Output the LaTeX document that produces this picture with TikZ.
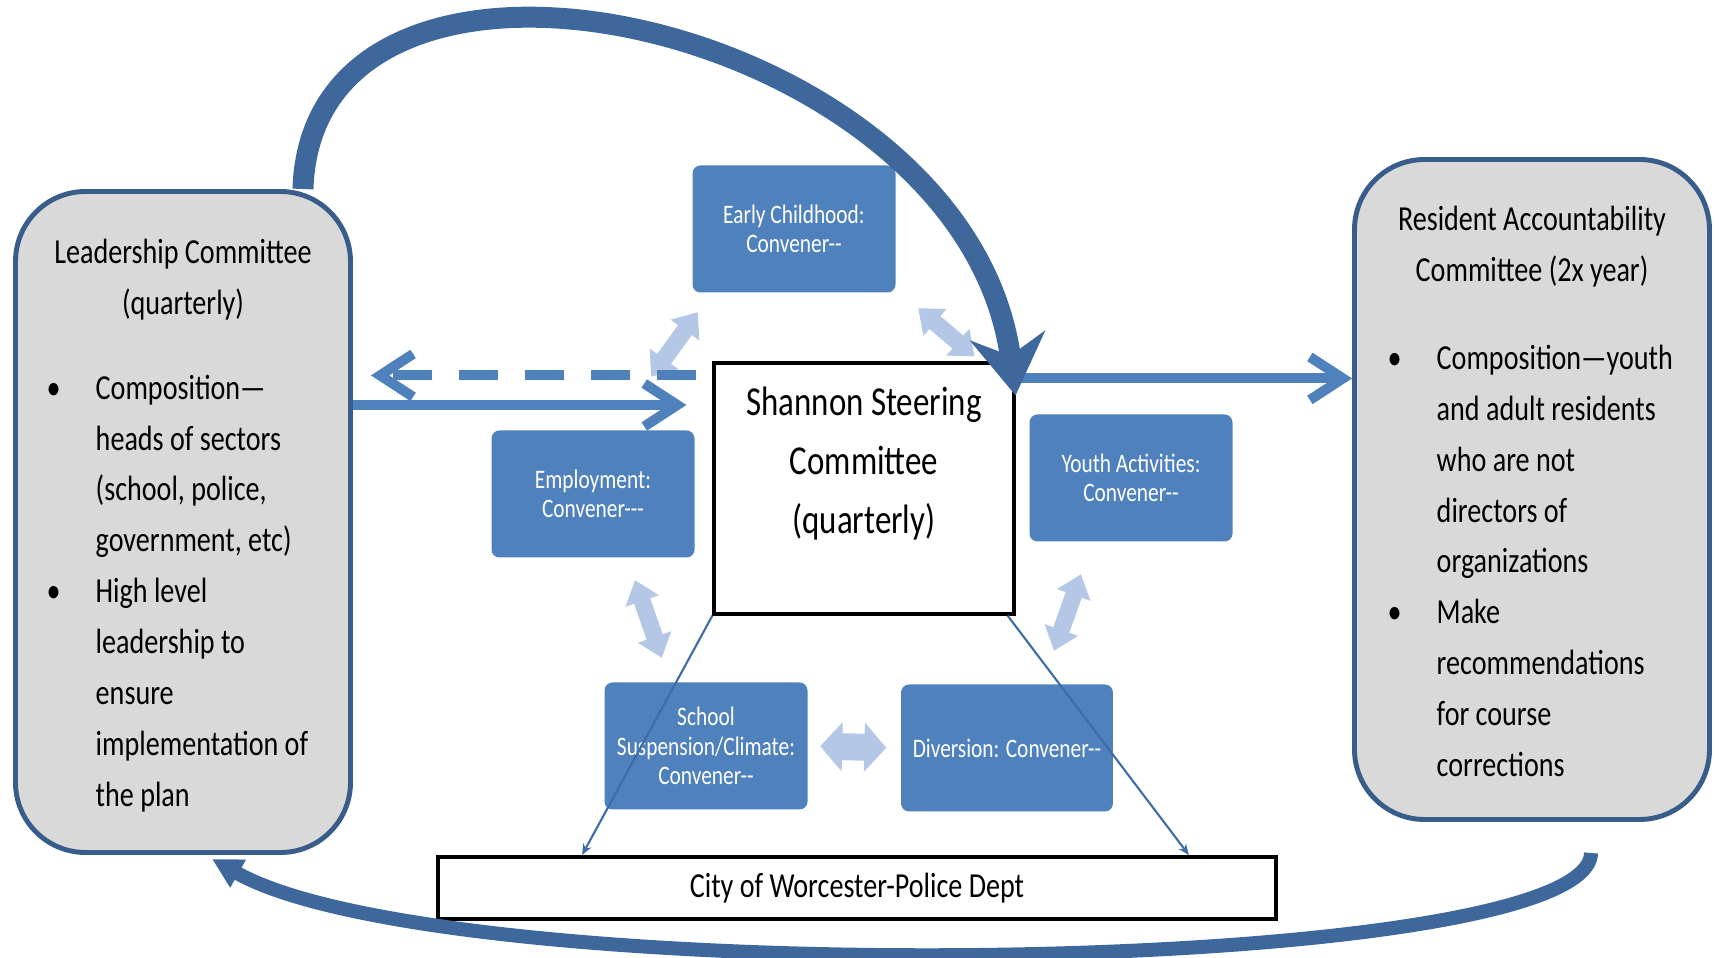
\documentclass[tikz,border=0pt]{standalone}
\usepackage{fontspec}
\setmainfont[FakeStretch=0.8]{Carlito}
\usetikzlibrary{positioning,calc,arrows.meta}
\definecolor{bleu}{RGB}{79,129,189}
\definecolor{fonce}{RGB}{62,104,156}
\definecolor{contour}{RGB}{56,93,138}
\definecolor{clair}{RGB}{180,199,231}
\definecolor{gris}{RGB}{217,217,217}
\definecolor{fil}{RGB}{62,108,168}
\newcommand{\puce}{\makebox[0.49cm][l]{•}}
\newcommand{\retrait}{\hspace*{0.49cm}}

\begin{document}
\begin{tikzpicture}
  \tikzstyle{comite}=[rectangle, draw=contour, line width=1.4pt, fill=gris,
  rounded corners=0.7cm]
  \tikzstyle{bloc}=[rectangle, fill=bleu, rounded corners=0.08cm, text=white,
  align=center, minimum width=2.03cm, minimum height=1.27cm,
  font=\fontsize{7.6}{8.4}\selectfont]
  \tikzstyle{cadre}=[rectangle, draw=black, line width=0.9pt, fill=white]
  \tikzstyle{titre}=[inner sep=0pt, align=center, font=\fontsize{10}{14.5}\selectfont]
  \tikzstyle{liste}=[inner sep=0pt, align=left, font=\fontsize{10}{14.5}\selectfont]
  \tikzstyle{fleche}=[draw=bleu, line width=0.1cm, -{Straight Barb[length=3.3mm,width=4.3mm]}]
  \tikzstyle{trait}=[draw=fil, line width=0.6pt, -{Stealth[length=1.1mm,width=0.9mm]}]
  \tikzstyle{liaison}=[draw=clair, line width=0.17cm,
  arrows={Triangle[length=2.2mm,width=3.4mm]-Triangle[length=2.2mm,width=3.4mm]}]
  \tikzstyle{boucle}=[draw=fonce, line width=0.21cm, -{Stealth[length=6mm,width=7.5mm,inset=2mm]}]

  \useasboundingbox (0,0) rectangle (17.19,9.58);

  % comites
  \node[comite, minimum width=3.35cm, minimum height=6.61cm] (lead) at (1.83,4.36) {};
  \node[comite, minimum width=3.55cm, minimum height=6.6cm] (resid) at (15.32,4.685) {};
  \node[titre, below=0.49cm of lead.north] (leadtitre) {Leadership Committee\\(quarterly)};
  \node[liste, below right=1.85cm and 0.33cm of lead.north west] (leadliste)
  {\puce Composition—\\\retrait heads of sectors\\\retrait (school, police,\\
    \retrait government, etc)\\\puce High level\\\retrait leadership to\\
    \retrait ensure\\\retrait implementation of\\\retrait the plan};
  \node[titre, below=0.48cm of resid.north] (residtitre)
  {Resident Accountability\\Committee (2x year)};
  \node[liste, below right=1.87cm and 0.35cm of resid.north west] (residliste)
  {\puce Composition—youth\\\retrait and adult residents\\\retrait who are not\\
    \retrait directors of\\\retrait organizations\\\puce Make\\
    \retrait recommendations\\\retrait for course\\\retrait corrections};

  % steering et police
  \node[cadre, minimum width=3.0cm, minimum height=2.51cm] (steer) at (8.64,4.695) {};
  \node[titre, font=\fontsize{11.7}{16.8}\selectfont, below=0.25cm of steer.north]
  (steertitre) {Shannon Steering\\Committee\\(quarterly)};
  \node[cadre, line width=1.1pt, minimum width=8.38cm, minimum height=0.62cm,
  font=\fontsize{10}{12}\selectfont] (city) at (8.57,0.70) {City of Worcester-Police Dept};

  % groupes de travail
  \foreach \n/\x/\y/\t in {early/7.94/7.29/{Early Childhood:\\Convener-{}-},
    emp/5.93/4.64/{Employment:\\Convener-{}-{}-},
    youth/11.31/4.80/{Youth Activities:\\Convener-{}-},
    school/7.06/2.12/{School\\Suspension/Climate:\\Convener-{}-},
    div/10.07/2.10/{Diversion: Convener-{}-}} {
    \node[bloc] (\n) at (\x,\y) {\t};
  }

  \draw[liaison] ($(emp.north east)+(-0.44,0.53)$) -- ($(early.south west)+(0.06,-0.19)$);
  \draw[liaison] ($(early.south east)+(0.22,-0.15)$) -- ($(steer.north east)+(-0.41,0.05)$);
  \draw[liaison] ($(emp.south)+(0.42,-0.22)$) -- ($(school.north west)+(0.58,0.24)$);
  \draw[liaison] ($(youth.south)+(-0.5,-0.32)$) -- ($(div.north)+(0.47,0.33)$);
  \draw[liaison, line width=0.27cm,
  arrows={Triangle[length=2.2mm,width=4.8mm]-Triangle[length=2.2mm,width=4.8mm]},
  shorten <=0.12cm, shorten >=0.14cm] (school.east) -- (div.west);

  \draw[trait] (steer.south west) -- ($(city.north west)+(1.46,0)$);
  \draw[trait] ($(steer.south east)+(-0.08,0)$) -- ($(city.north east)+(-0.89,0)$);

  % fleches
  \coordinate (entree) at ($(steer.west)+(-0.26,0.835)$);
  \draw[fleche] (entree -| lead.east) -- (entree);
  \coordinate (sortie) at ($(steer.north west)+(-0.16,-0.14)$);
  \draw[fleche, dash pattern=on 0.39cm off 0.27cm, shorten >=0.18cm] (sortie) -- (sortie -| lead.east);
  \coordinate (depart) at ($(steer.north east)+(0,-0.17)$);
  \draw[fleche] (depart) -- (depart -| resid.west);

  \draw[boucle] ($(lead.north east)+(-0.5,0)$) .. controls +(0.1,3.1) and +(-0.5,3.75)
  .. ($(steer.north east)+(0,-0.34)$);
  \draw[boucle, line width=0.14cm, -{Triangle[length=3mm,width=3mm]}]
  ($(resid.south)+(0.59,-0.31)$) .. controls +(-0.01,-1.25) and +(2.38,-1.34)
  .. ($(lead.south)+(0.29,-0.04)$);
\end{tikzpicture}
\end{document}
